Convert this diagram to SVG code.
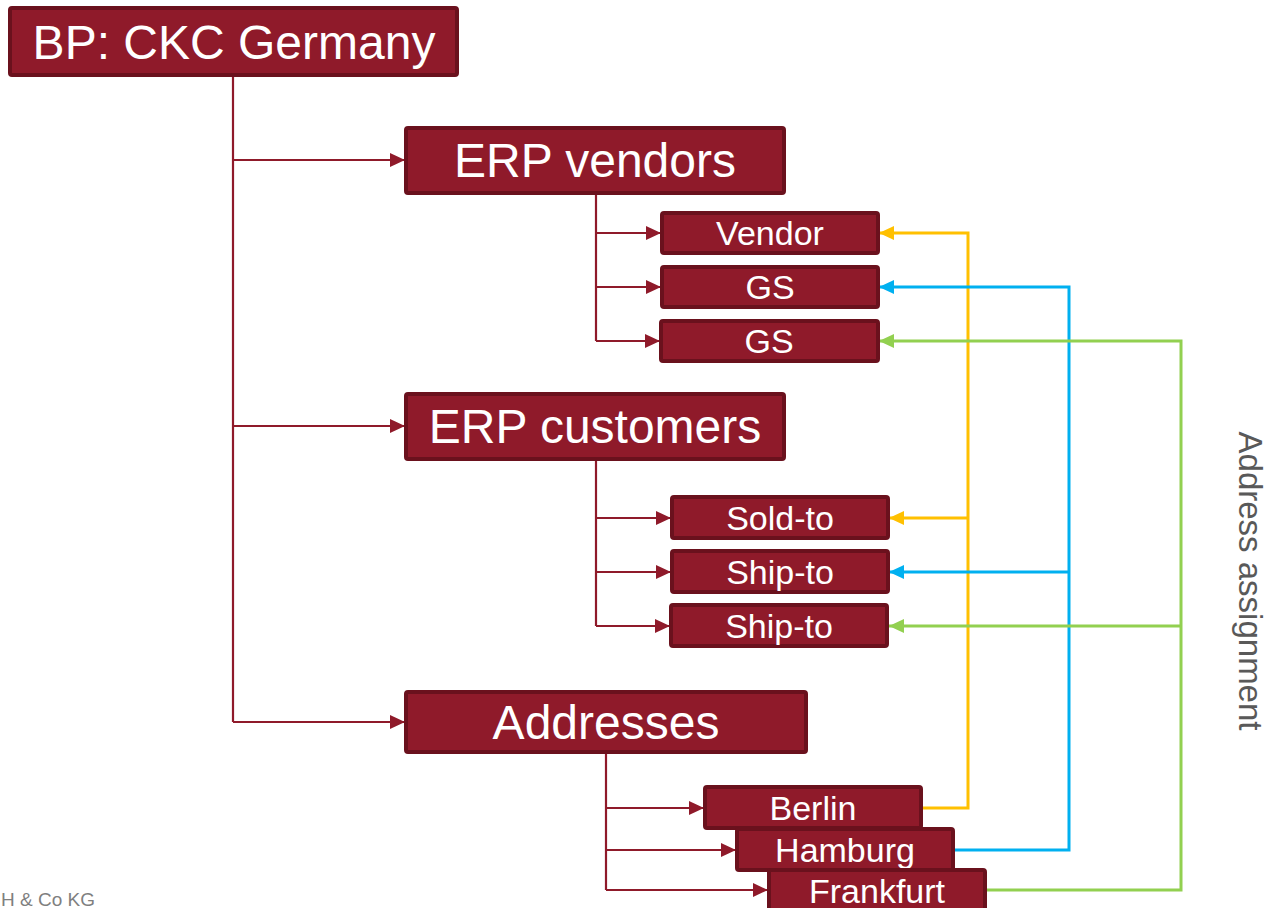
<svg xmlns="http://www.w3.org/2000/svg" width="1270" height="908" viewBox="0 0 1270 908">
<style>
.box{fill:#8f1a2a;stroke:#6a111d;stroke-width:4}
.t{fill:#ffffff;font-family:"Liberation Sans",Arial,sans-serif;text-anchor:middle}
.big{font-size:48px}
.sm{font-size:34px}
.red{stroke:#8f1a2a;stroke-width:2.2;fill:none}
.yel{stroke:#ffc000;stroke-width:3;fill:none}
.blu{stroke:#00b0f0;stroke-width:3;fill:none}
.grn{stroke:#92d050;stroke-width:3;fill:none}
</style>
<defs>
<marker id="ar" markerUnits="userSpaceOnUse" viewBox="0 0 15 14" refX="15" refY="7" markerWidth="15" markerHeight="14" orient="auto"><path d="M0,0 L15,7 L0,14 z" fill="#8f1a2a"/></marker>
<marker id="ay" markerUnits="userSpaceOnUse" viewBox="0 0 15 14" refX="15" refY="7" markerWidth="15" markerHeight="14" orient="auto"><path d="M0,0 L15,7 L0,14 z" fill="#ffc000"/></marker>
<marker id="ab" markerUnits="userSpaceOnUse" viewBox="0 0 15 14" refX="15" refY="7" markerWidth="15" markerHeight="14" orient="auto"><path d="M0,0 L15,7 L0,14 z" fill="#00b0f0"/></marker>
<marker id="ag" markerUnits="userSpaceOnUse" viewBox="0 0 15 14" refX="15" refY="7" markerWidth="15" markerHeight="14" orient="auto"><path d="M0,0 L15,7 L0,14 z" fill="#92d050"/></marker>
</defs>
<g id="connectors">
<path class="red" d="M233,76 V722"/>
<path class="red" d="M233,160 H405" marker-end="url(#ar)"/>
<path class="red" d="M233,426 H405" marker-end="url(#ar)"/>
<path class="red" d="M233,722 H405" marker-end="url(#ar)"/>
<path class="red" d="M596,194 V341"/>
<path class="red" d="M596,233 H661" marker-end="url(#ar)"/>
<path class="red" d="M596,287 H661" marker-end="url(#ar)"/>
<path class="red" d="M596,341 H660" marker-end="url(#ar)"/>
<path class="red" d="M596,460 V626"/>
<path class="red" d="M596,518 H671" marker-end="url(#ar)"/>
<path class="red" d="M596,572 H671" marker-end="url(#ar)"/>
<path class="red" d="M596,626 H670" marker-end="url(#ar)"/>
<path class="red" d="M606,753 V890"/>
<path class="red" d="M606,808 H704" marker-end="url(#ar)"/>
<path class="red" d="M606,850 H736" marker-end="url(#ar)"/>
<path class="red" d="M606,890 H768" marker-end="url(#ar)"/>
<path class="yel" d="M922,808 H968 V233 H879" marker-end="url(#ay)"/>
<path class="yel" d="M968,518 H889" marker-end="url(#ay)"/>
<path class="blu" d="M954,850 H1069 V287 H879" marker-end="url(#ab)"/>
<path class="blu" d="M1069,572 H889" marker-end="url(#ab)"/>
<path class="grn" d="M986,890 H1181 V341 H879" marker-end="url(#ag)"/>
<path class="grn" d="M1181,626 H889" marker-end="url(#ag)"/>
</g>
<g id="bp"><rect class="box" x="10" y="8" width="447" height="67" rx="2"/><text class="t big" x="234" y="59">BP: CKC Germany</text></g>
<g id="erp-vendors"><rect class="box" x="406" y="128" width="378" height="65" rx="2"/><text class="t big" x="595" y="177">ERP vendors</text></g>
<g id="vendor"><rect class="box" x="662" y="213" width="216" height="40" rx="2"/><text class="t sm" x="770" y="245">Vendor</text></g>
<g id="gs1"><rect class="box" x="662" y="267" width="216" height="40" rx="2"/><text class="t sm" x="770" y="299">GS</text></g>
<g id="gs2"><rect class="box" x="661" y="321" width="217" height="40" rx="2"/><text class="t sm" x="769" y="353">GS</text></g>
<g id="erp-customers"><rect class="box" x="406" y="394" width="378" height="65" rx="2"/><text class="t big" x="595" y="443">ERP customers</text></g>
<g id="sold-to"><rect class="box" x="672" y="497" width="216" height="41" rx="2"/><text class="t sm" x="780" y="530">Sold-to</text></g>
<g id="ship-to1"><rect class="box" x="672" y="551" width="216" height="41" rx="2"/><text class="t sm" x="780" y="584">Ship-to</text></g>
<g id="ship-to2"><rect class="box" x="671" y="605" width="216" height="41" rx="2"/><text class="t sm" x="779" y="638">Ship-to</text></g>
<g id="addresses"><rect class="box" x="406" y="692" width="400" height="60" rx="2"/><text class="t big" x="606" y="739">Addresses</text></g>
<g id="berlin"><rect class="box" x="705" y="787" width="216" height="41" rx="2"/><text class="t sm" x="813" y="820">Berlin</text></g>
<g id="hamburg"><rect class="box" x="737" y="829" width="216" height="41" rx="2"/><text class="t sm" x="845" y="862">Hamburg</text></g>
<g id="frankfurt"><rect class="box" x="769" y="870" width="216" height="42" rx="2"/><text class="t sm" x="877" y="903">Frankfurt</text></g>
<text transform="translate(1239,581) rotate(90)" x="0" y="0" font-family="Liberation Sans, Arial, sans-serif" font-size="33" fill="#595959" text-anchor="middle">Address assignment</text>
<text x="1" y="906" font-family="Liberation Sans, Arial, sans-serif" font-size="19" fill="#7f7f7f">H &amp; Co KG</text>
</svg>
